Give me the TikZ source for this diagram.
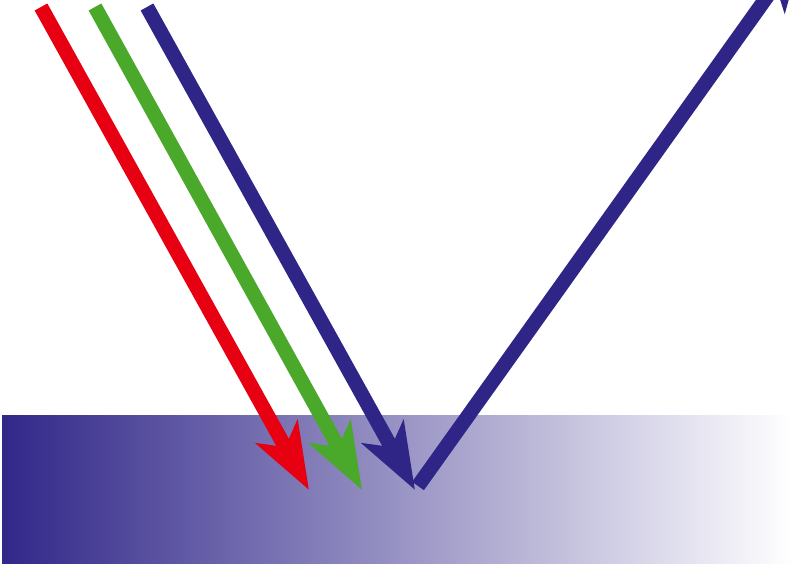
\documentclass[tikz,border=0pt]{standalone}
\usetikzlibrary{arrows.meta}
\definecolor{rayred}{RGB}{230,0,18}
\definecolor{raygreen}{RGB}{74,168,42}
\definecolor{rayblue}{RGB}{46,37,135}
\definecolor{surfblue}{RGB}{49,39,137}
\tikzset{
  ray/.style={line width=14.5pt, line cap=butt,
    -{Stealth[length=66pt, width=47pt, inset=17pt]}},
}
\begin{document}
\begin{tikzpicture}[x=1pt,y=-1pt]
\useasboundingbox (0,0) rectangle (793,564);
\clip (0,0) rectangle (793,564);
\shade[left color=surfblue, right color=white] (2,415) rectangle (793,564);
\coordinate (r0) at (41,7);
\coordinate (r1) at (309,490);
\coordinate (g0) at (95,7);
\coordinate (g1) at (362,490);
\coordinate (b0) at (147,7);
\coordinate (b1) at (415,490);
\coordinate (c0) at (418,486);
\coordinate (c1) at (804,-55);
\draw[ray, rayred] (r0) -- (r1);
\draw[ray, raygreen] (g0) -- (g1);
\draw[ray, rayblue] (b0) -- (b1);
\draw[ray, rayblue] (c0) -- (c1);
\end{tikzpicture}
\end{document}
